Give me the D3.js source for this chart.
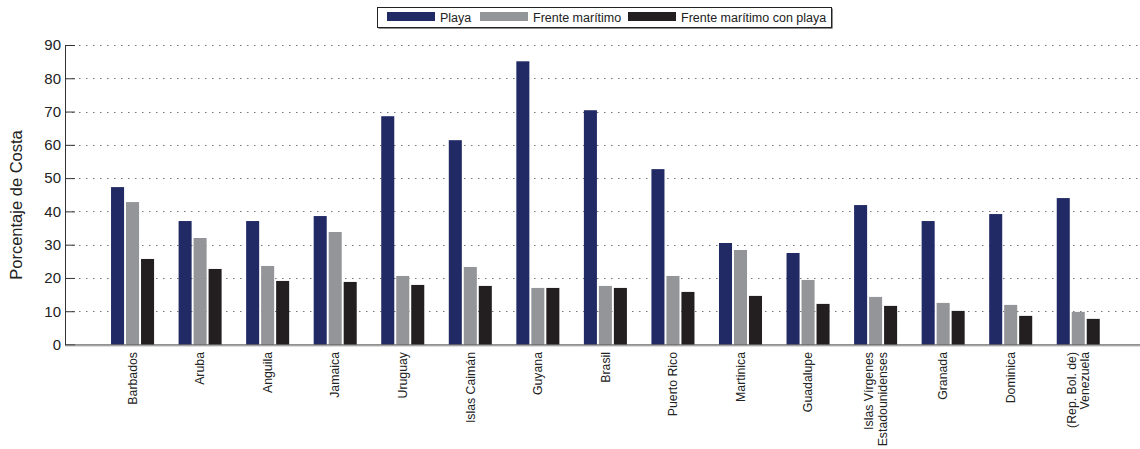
<!DOCTYPE html>
<html><head><meta charset="utf-8">
<script src="https://cdn.jsdelivr.net/npm/d3@7"></script>
<style>body{margin:0;background:#fff}svg{display:block;font-family:"Liberation Sans",Arial,sans-serif}</style>
</head><body>
<svg id="chart" width="1140" height="449"></svg>
<script>
const categories = ["Barbados","Aruba","Anguila","Jamaica","Uruguay","Islas Caimán","Guyana","Brasil","Puerto Rico","Martinica","Guadalupe","Islas Vírgenes\nEstadounidenses","Granada","Dominica","(Rep. Bol. de)\nVenezuela"];
const playa = [47.3,37.1,37.1,38.6,68.6,61.4,85.1,70.4,52.7,30.5,27.5,41.9,37.1,39.2,44.0];
const frenteMaritimo = [42.8,32.0,23.6,33.8,20.6,23.3,17.0,17.6,20.6,28.4,19.4,14.3,12.5,11.9,9.8];
const frenteConPlaya = [25.7,22.7,19.1,18.8,17.9,17.6,17.0,17.0,15.8,14.6,12.2,11.6,10.1,8.6,7.7];
const seriesNames = ["Playa","Frente marítimo","Frente marítimo con playa"];
const seriesColors = ["#222a66","#939598","#231f20"];
const yTicks = [0,10,20,30,40,50,60,70,80,90];
const yLabel = "Porcentaje de Costa";

const series = [playa, frenteMaritimo, frenteConPlaya];
const svg = d3.select("#chart");
const x = d3.scaleLinear().domain([0,16]).range([65, 65+16*67.55]);
const y = d3.scaleLinear().domain([0,90]).range([344.5,45]);
const offsets = [-0.222, 0, 0.222];
const bw = 0.193;

// gridlines
svg.append("g").selectAll("line").data(yTicks.filter(d=>d>0)).join("line")
  .attr("x1",65).attr("x2",1140)
  .attr("y1",d=>Math.round(y(d))+0.5).attr("y2",d=>Math.round(y(d))+0.5)
  .attr("stroke","#777").attr("stroke-width",1).attr("stroke-dasharray","1.5,5.5");

// bars
series.forEach((vals,si)=>{
  svg.append("g").selectAll("rect").data(vals).join("rect")
    .attr("x",(d,i)=>x(i+1+offsets[si]-bw/2))
    .attr("width",(d,i)=>x(i+1+offsets[si]+bw/2)-x(i+1+offsets[si]-bw/2))
    .attr("y",d=>y(d)).attr("height",d=>y(0)-y(d))
    .attr("fill",seriesColors[si]);
});

// y axis
const yAxis = d3.axisLeft(y).tickValues(yTicks).tickSizeInner(-10).tickSizeOuter(0).tickPadding(5);
const gy = svg.append("g").attr("transform","translate(65,0)").call(yAxis);
gy.select(".domain").attr("stroke","#333");
gy.selectAll(".tick line").attr("stroke","#333");
gy.selectAll(".tick text").attr("font-size",15).attr("fill","#222").attr("x",-4)
  .attr("font-family","'Liberation Sans',Arial,sans-serif");

// x axis line
svg.append("line").attr("x1",65).attr("x2",1140).attr("y1",345).attr("y2",345).attr("stroke","#222");
svg.append("line").attr("x1",65).attr("x2",1140).attr("y1",346).attr("y2",346).attr("stroke","#bbb");

// x labels
const xl = svg.append("g");
categories.forEach((c,i)=>{
  const lines = c.split("\n");
  const cx = x(i+1);
  const t = xl.append("text")
    .attr("transform",`translate(${cx},352) rotate(-90)`)
    .attr("text-anchor","end").attr("font-size",12.3).attr("fill","#222");
  const n = lines.length;
  lines.forEach((ln,k)=>{
    t.append("tspan").attr("x",0).attr("y",(k-(n-1)/2)*13.5+4.2).text(ln);
  });
});

// y label
svg.append("text").attr("transform","translate(22,205) rotate(-90)")
  .attr("text-anchor","middle").attr("font-size",16.5).attr("fill","#222").text(yLabel);

// legend
const lg = svg.append("g");
lg.append("rect").attr("x",378.5).attr("y",8.5).attr("width",454).attr("height",20).attr("fill","#222");
lg.append("rect").attr("x",377.5).attr("y",7.5).attr("width",454).attr("height",20).attr("fill","#fff").attr("stroke","#222");
const legX = [387, 480, 628];
seriesNames.forEach((n,si)=>{
  lg.append("rect").attr("x",legX[si]).attr("y",12).attr("width",48).attr("height",9).attr("fill",seriesColors[si]);
  lg.append("text").attr("x",legX[si]+53).attr("y",21.5).attr("font-size",12.5).attr("fill","#222").text(n);
});
</script>
</body></html>
